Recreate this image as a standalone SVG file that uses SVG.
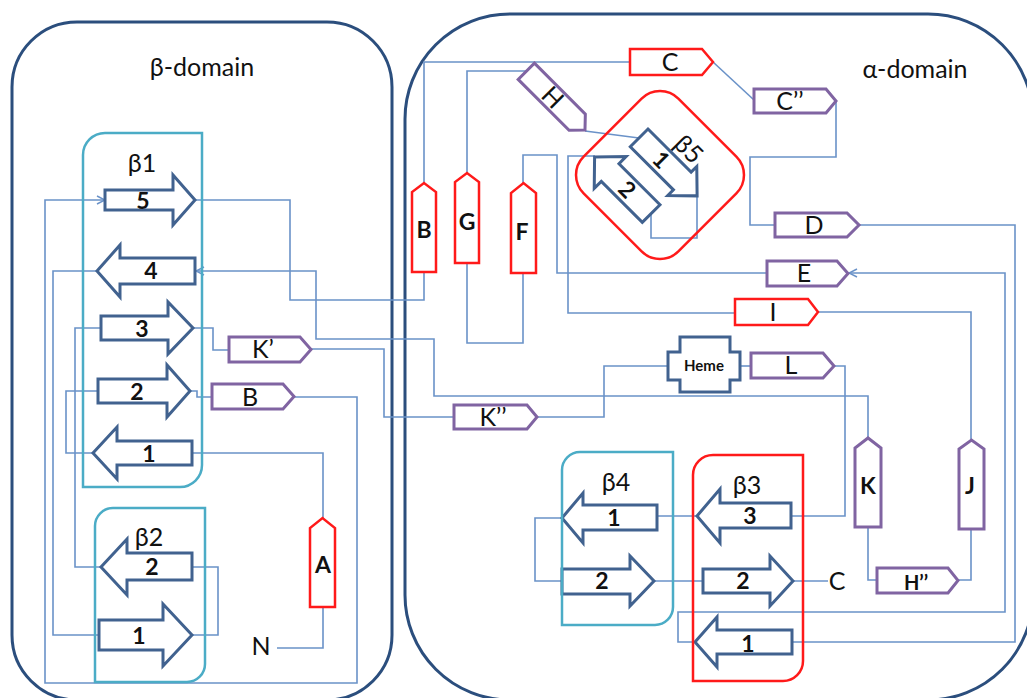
<svg xmlns="http://www.w3.org/2000/svg" width="1027" height="698" viewBox="0 0 1027 698">
<defs>
<style>
.dom{fill:none;stroke:#2B4E7D;stroke-width:3}
.sheet{fill:none;stroke:#4BACC6;stroke-width:2.5}
.sheetr{fill:none;stroke:#FF1A1A;stroke-width:2.5}
.st{fill:#fff;stroke:#41628F;stroke-width:3}
.hr{fill:#fff;stroke:#FF1A1A;stroke-width:2.5}
.hp{fill:#fff;stroke:#8064A2;stroke-width:3}
.cn{fill:none;stroke:#6A92C8;stroke-width:1.6}
text{font-family:Lato,"Open Sans","Liberation Sans",sans-serif;fill:#111;text-anchor:middle}
.num{font-size:23px;font-weight:bold}
.hl{font-size:23px;font-weight:bold}
.lb{font-size:25px}
.ttl{font-size:25px}
</style>
<marker id="arr" markerWidth="10" markerHeight="10" refX="9" refY="5" orient="auto" markerUnits="userSpaceOnUse">
<path d="M1,1 L9,5 L1,9" fill="none" stroke="#6A92C8" stroke-width="1.5"/>
</marker>
</defs>
<rect width="1027" height="698" fill="#fff"/>

<!-- domain outlines -->
<g id="beta-domain">
<rect class="dom" x="12" y="22" width="380" height="678" rx="65"/>
<text class="ttl" x="202" y="76">β-domain</text>
</g>
<g id="alpha-domain">
<rect class="dom" x="405" y="14" width="628" height="686" rx="105"/>
<text class="ttl" x="915" y="78">α-domain</text>
</g>

<!-- chain connectors -->
<g id="connectors">
<path class="cn" d="M277,648 H323 V607"/>
<path class="cn" d="M323,518 V453 H192"/>
<path class="cn" d="M98,391 H66 V453 H93"/>
<path class="cn" d="M190,391 H197 V397 H212"/>
<path class="cn" d="M294,397 H357 V683 H45 V200 H105" marker-end="url(#arr)"/>
<path class="cn" d="M101,328 H75 V567 H101"/>
<path class="cn" d="M193,328 H213 V350 H229"/>
<path class="cn" d="M311,349 H384 V417 H454"/>
<path class="cn" d="M97,271 H53 V635 H99"/>
<path class="cn" d="M192,567 H218 V635 H192"/>
<path class="cn" d="M195,200 H290 V300 H424 V272"/>
<path class="cn" d="M868,438 V396 H434 V339 H316 V271 H196" marker-end="url(#arr)"/>
<path class="cn" d="M630,62 H424 V183"/>
<path class="cn" d="M467,173 V71 H526"/>
<path class="cn" d="M467,263 V343 H523 V273"/>
<path class="cn" d="M523,183 V155 H557 V273 H767"/>
<path class="cn" d="M585,131 L639,138"/>
<path class="cn" d="M697,196 V238 H651 V213"/>
<path class="cn" d="M595,156 H568 V313 H735"/>
<path class="cn" d="M713,62 L754,100"/>
<path class="cn" d="M836,101 V157 H750 V225 H775"/>
<path class="cn" d="M859,225 H1015 V642 H792"/>
<path class="cn" d="M695,642 H678 V612 H1005 V273 H849" marker-end="url(#arr)"/>
<path class="cn" d="M818,312 H971 V440"/>
<path class="cn" d="M971,529 V580 H958"/>
<path class="cn" d="M877,580 H868 V527"/>
<path class="cn" d="M537,417 H604 V366 H668"/>
<path class="cn" d="M740,366 H751"/>
<path class="cn" d="M834,366 H845 V516 H791"/>
<path class="cn" d="M697,516 H657"/>
<path class="cn" d="M562,518 H535 V581 H562"/>
<path class="cn" d="M654,581 H703"/>
<path class="cn" d="M793,581 H828"/>
</g>

<!-- sheet beta1 -->
<g id="sheet-b1">
<path class="sheet" d="M105,133 H202 V465 A22,22 0 0 1 180,487 H83 V155 A22,22 0 0 1 105,133 Z"/>
<text class="ttl" x="142" y="172">β1</text>
</g>
<g id="b1-5"><polygon class="st" points="105,190 173,190 173,175 195,200 173,225 173,210 105,210"/><text class="num" x="143" y="209">5</text></g>
<g id="b1-4"><polygon class="st" points="195,258 120,258 120,245 97,271 120,297 120,284 195,284"/><text class="num" x="151" y="279">4</text></g>
<g id="b1-3"><polygon class="st" points="101,316 168,316 168,302 193,328 168,354 168,340 101,340"/><text class="num" x="142" y="337">3</text></g>
<g id="b1-2"><polygon class="st" points="98,379 167,379 167,365 190,391 167,417 167,403 98,403"/><text class="num" x="137" y="400">2</text></g>
<g id="b1-1"><polygon class="st" points="192,441 117,441 117,427 93,453 117,479 117,465 192,465"/><text class="num" x="149" y="462">1</text></g>

<!-- sheet beta2 -->
<g id="b2-2"><polygon class="st" points="192,553 127,553 127,539 101,567 127,595 127,580 192,580"/><text class="num" x="152" y="575">2</text></g>
<g id="b2-1"><polygon class="st" points="99,620 163,620 163,604 192,635 163,666 163,650 99,650"/><text class="num" x="139" y="644">1</text></g>
<g id="sheet-b2">
<path class="sheet" d="M113,508 H205 V664 A18,18 0 0 1 187,682 H95 V526 A18,18 0 0 1 113,508 Z"/>
<text class="ttl" x="149" y="546">β2</text>
</g>

<!-- helices of the beta domain -->
<g id="helix-A"><polygon class="hr" points="310,607 310,528 322.5,518 335,528 335,607"/><text class="hl" x="323" y="573">A</text></g>
<g id="helix-Kp"><polygon class="hp" points="229,337 300,337 311,349.5 300,362 229,362"/><text class="lb" x="263" y="358">K’</text></g>
<g id="helix-Bp"><polygon class="hp" points="212,384 283,384 294,396.5 283,409 212,409"/><text class="lb" x="250" y="406">B</text></g>
<g id="label-N"><text class="lb" x="261" y="655">N</text></g>

<!-- helices of the alpha domain -->
<g id="helix-B"><polygon class="hr" points="412,272 412,192 424,183 436,192 436,272"/><text class="hl" x="424" y="238">B</text></g>
<g id="helix-G"><polygon class="hr" points="455,263 455,182 467,173 479,182 479,263"/><text class="hl" x="467" y="230">G</text></g>
<g id="helix-F"><polygon class="hr" points="511,273 511,193 523.5,183 536,193 536,273"/><text class="hl" x="522" y="240">F</text></g>
<g id="helix-C"><polygon class="hr" points="630,49 702,49 713,62 702,75 630,75"/><text class="lb" x="670" y="71">C</text></g>
<g id="helix-H" transform="translate(556,101) rotate(45)"><polygon class="hp" points="-42,-11.5 30,-11.5 41,0 30,11.5 -42,11.5"/><text class="lb" x="-5" y="8.5">H</text></g>
<g id="helix-Cpp"><polygon class="hp" points="754,89 826,89 836,101 826,113 754,113"/><text class="lb" x="790" y="110">C’’</text></g>
<g id="helix-D"><polygon class="hp" points="775,213 847,213 859,225 847,237 775,237"/><text class="lb" x="814" y="234">D</text></g>
<g id="helix-E"><polygon class="hp" points="767,261 837,261 848,273.5 837,286 767,286"/><text class="lb" x="804" y="282">E</text></g>
<g id="helix-I"><polygon class="hr" points="735,299 808,299 818,312 808,325 735,325"/><text class="lb" x="773" y="321">I</text></g>
<g id="heme"><polygon class="st" points="668,352 680,352 680,337 730,337 730,352 740,352 740,380 730,380 730,392 680,392 680,380 668,380"/><text x="704" y="371" style="font-size:15px;font-weight:bold">Heme</text></g>
<g id="helix-L"><polygon class="hp" points="751,353 823,353 834,366 823,378 751,378"/><text class="lb" x="791" y="374">L</text></g>
<g id="helix-Kpp"><polygon class="hp" points="454,405 527,405 537,417 527,429 454,429"/><text class="lb" x="493" y="426">K’’</text></g>
<g id="helix-K"><polygon class="hp" points="855,527 855,448 868,438 881,448 881,527"/><text class="hl" x="868" y="494">K</text></g>
<g id="helix-J"><polygon class="hp" points="959,529 959,449 971.5,440 984,449 984,529"/><text class="hl" x="970" y="494">J</text></g>
<g id="helix-Hpp"><polygon class="hp" points="877,568 948,568 958,580.5 948,593 877,593"/><text x="916" y="590" style="font-size:20px;font-weight:bold">H’’</text></g>

<!-- sheet beta5, drawn on a 45 degree frame -->
<g id="sheet-b5" transform="translate(660,175) rotate(45)">
<rect x="-67" y="-67" width="134" height="134" rx="26" fill="none" stroke="#FF1A1A" stroke-width="2.5"/>
<text class="ttl" x="2" y="-30">β5</text>
</g>
<g id="b5-1" transform="translate(660,175) rotate(45)"><polygon class="st" points="-41,-24 20,-24 20,-32 41,-11.5 20,9 20,1 -41,1"/><text class="num" x="-10" y="-3.5">1</text></g>
<g id="b5-2" transform="translate(660,175) rotate(45)"><polygon class="st" points="21,21 -37,21 -37,11 -59,33.5 -37,56 -37,46 21,46"/><text class="num" x="-13" y="41.5">2</text></g>

<!-- sheet beta4 -->
<g id="b4-1"><polygon class="st" points="657,505 583,505 583,493 562,518 583,543 583,530 657,530"/><text class="num" x="614" y="526">1</text></g>
<g id="b4-2"><polygon class="st" points="562,569 630,569 630,556 654,581 630,606 630,594 562,594"/><text class="num" x="602" y="589">2</text></g>
<g id="sheet-b4">
<path class="sheet" d="M580,452 H673 V607 A18,18 0 0 1 655,625 H562 V470 A18,18 0 0 1 580,452 Z"/>
<text class="ttl" x="616" y="491">β4</text>
</g>

<!-- sheet beta3 -->
<g id="b3-3"><polygon class="st" points="791,503 720,503 720,489 697,516 720,543 720,528 791,528"/><text class="num" x="750" y="524">3</text></g>
<g id="b3-2"><polygon class="st" points="703,569 770,569 770,556 793,581 770,606 770,593 703,593"/><text class="num" x="743" y="589">2</text></g>
<g id="b3-1"><polygon class="st" points="792,630 717,630 717,617 695,642 717,667 717,654 792,654"/><text class="num" x="748" y="652">1</text></g>
<g id="sheet-b3">
<path class="sheetr" d="M713,455 H803 V661 A20,20 0 0 1 783,681 H693 V475 A20,20 0 0 1 713,455 Z"/>
<text class="ttl" x="747" y="494">β3</text>
</g>
<g id="label-C"><text class="lb" x="837" y="590">C</text></g>
</svg>
